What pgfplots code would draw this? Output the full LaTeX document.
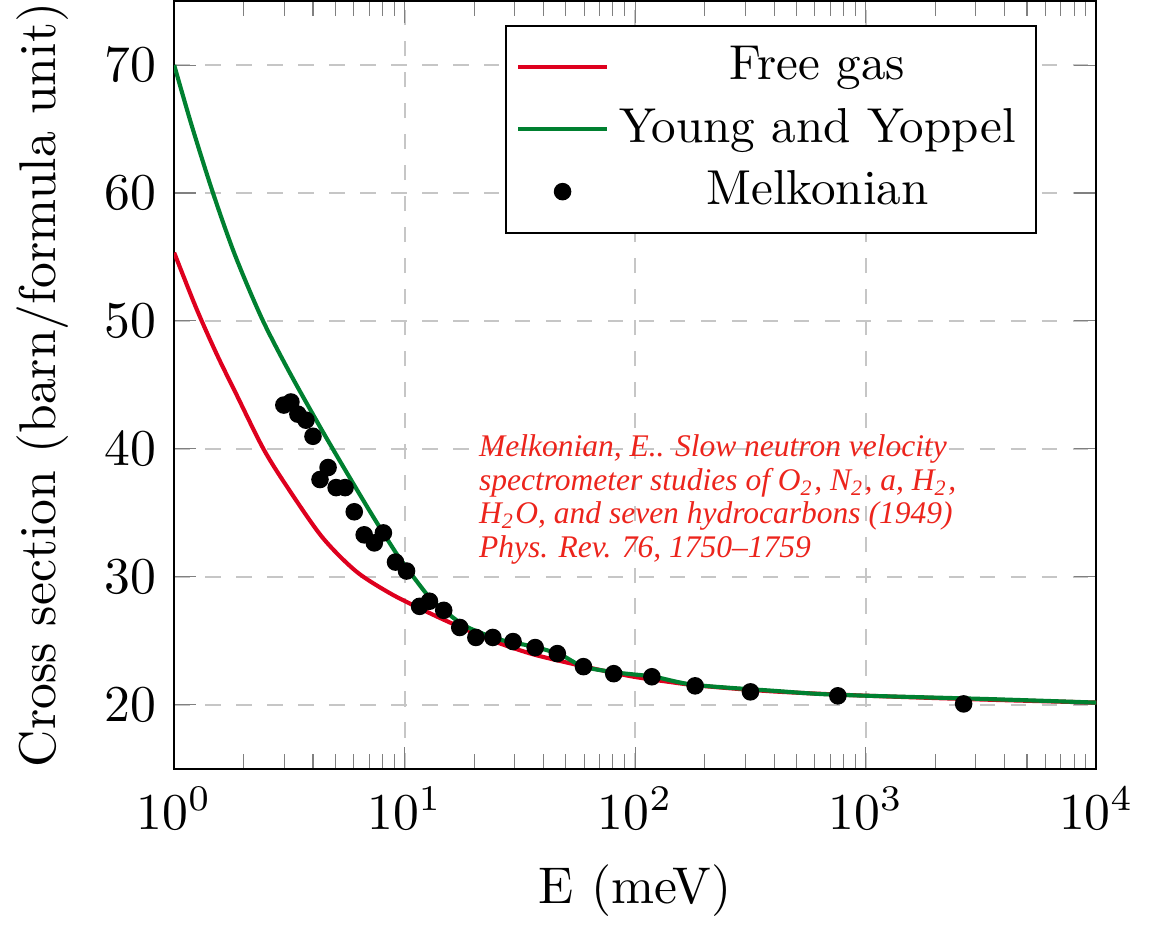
\documentclass[border=0pt]{standalone}
\usepackage{fontspec}
\newfontfamily\timesfont{Liberation Serif}
\usepackage{pgfplots}
\pgfplotsset{compat=1.18}
\definecolor{fgred}{RGB}{222,0,30}
\definecolor{yygreen}{RGB}{0,128,48}
\definecolor{notered}{RGB}{236,36,28}

\begin{document}
\begin{tikzpicture}
\begin{axis}[
    xmode=log,
    scale only axis,
    width=178.6pt, height=148.7pt,
    xmin=1, xmax=1e4,
    ymin=15, ymax=75,
    ytick={20,30,40,50,60,70},
    xlabel={E (meV)},
    ylabel={Cross section (barn/formula unit)},
    ylabel style={inner xsep=0pt},
    grid=major,
    major grid style={dashed, gray!45},
    legend style={at={(0.936,0.969)}, anchor=north east, draw=black,
        fill=white, inner xsep=2pt, font=\fontsize{9.5}{11.4}\selectfont},
    legend cell align=center,
]
% free gas model
\addplot[fgred, thick, smooth] coordinates {
    (1,55.34) (1.25,50.95) (1.53,47.4) (1.84,44.45) (2.44,40.0)
    (3.14,36.85) (4.39,33.1) (6.14,30.45) (8.58,28.75) (11.6,27.55)
    (15,26.6) (19.2,25.75) (25.9,24.8) (36.1,23.95) (50.8,23.3)
    (70.7,22.72) (98.5,22.2) (138.7,21.81) (193,21.49) (400,21.05)
    (1000,20.72) (3500,20.40) (10000,20.18)
};
\addlegendentry{Free gas}
% Young and Koppel model
\addplot[yygreen, thick, smooth] coordinates {
    (1,70.0) (1.19,65.3) (1.48,59.9) (1.84,55.1) (2.4,50.2)
    (3.14,46.1) (4.3,41.7) (5.5,38.4) (7.3,34.7) (9.3,31.7)
    (10.2,30.7) (12.8,28.4) (15,27.3) (18.6,26.1) (25.9,25.1)
    (36.1,24.56) (47.3,23.93) (59.6,22.99) (83.9,22.52) (120.4,22.20)
    (180,21.57) (400,21.10) (756,20.79) (3500,20.45) (10000,20.18)
};
\addlegendentry{Young and Yoppel}
% measured points
\addplot[only marks, mark=*, mark size=1.5pt, black] coordinates {
    (2.99,43.43) (3.21,43.67) (3.44,42.72) (3.73,42.25) (4.0,40.99)
    (4.29,37.61) (4.65,38.55) (5.04,36.98) (5.51,36.98) (6.04,35.09)
    (6.67,33.29) (7.38,32.66) (8.08,33.44) (9.12,31.16) (10.18,30.46)
    (11.6,27.70) (12.8,28.10) (14.76,27.39) (17.33,26.05) (20.35,25.27)
    (24.1,25.27) (29.5,24.95) (36.8,24.48) (45.9,24.01) (59.6,22.99)
    (80.6,22.44) (118,22.20) (181.8,21.49) (315.9,21.02) (756,20.71)
    (2655,20.08)
};
\addlegendentry{Melkonian}
\node[anchor=north west, inner sep=0pt, align=left, text=notered,
      font=\timesfont\itshape\fontsize{6.1}{6.5}\selectfont]
    at (axis cs:20.8,41.2)
    {Melkonian, E.. Slow neutron velocity\\
     spectrometer studies of O\textsubscript{2}, N\textsubscript{2}, a, H\textsubscript{2},\\
     H\textsubscript{2}O, and seven hydrocarbons (1949)\\
     Phys. Rev. 76, 1750–1759};
\end{axis}
\end{tikzpicture}
\end{document}
